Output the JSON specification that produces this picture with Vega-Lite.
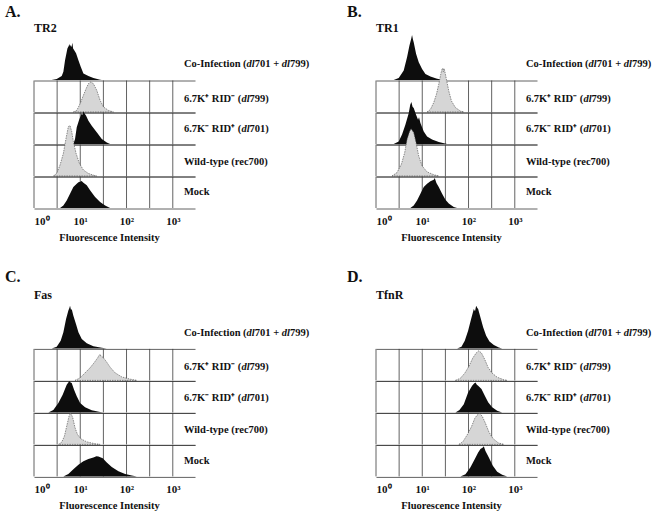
{
"$schema": "https://vega.github.io/schema/vega-lite/v6.json",
"padding": {"left": 5, "top": 3.5, "right": 0, "bottom": 5},
"config": {
 "view": {"stroke": null},
 "font": "Liberation Serif",
 "axis": {"labels": false, "ticks": false, "tickSize": 0, "domain": false, "gridColor": "#3a3a3a", "gridWidth": 0.8, "gridOpacity": 1, "labelFont": "Liberation Serif", "labelFontWeight": "bold", "labelFontSize": 11, "labelColor": "#111", "titleFont": "Liberation Serif", "titleFontWeight": "bold", "titleFontSize": 10.5, "titleColor": "#111"},
 "axisX": {"grid": false},
 "axisY": {"grid": true},
 "text": {"font": "Liberation Serif", "fontWeight": "bold", "fontSize": 10.5, "color": "#111", "align": "left", "baseline": "alphabetic"},
 "area": {"clip": false},
 "rule": {"color": "#3a3a3a", "strokeWidth": 0.8},
 "title": {"font": "Liberation Serif", "fontSize": 16, "fontWeight": "bold", "color": "#111", "anchor": "start", "dx": -29, "baseline": "alphabetic", "offset": 2}
},
"datasets": {
 "half": [{"logI":0},{"logI":0.5},{"logI":1},{"logI":1.5},{"logI":2},{"logI":2.5},{"logI":3}],
 "A_co": [{"logI":0.382,"count":0},{"logI":0.491,"count":3},{"logI":0.599,"count":13},{"logI":0.635,"count":26},{"logI":0.671,"count":63},{"logI":0.722,"count":100},{"logI":0.75,"count":108},{"logI":0.765,"count":114},{"logI":0.78,"count":106},{"logI":0.794,"count":111},{"logI":0.81,"count":104},{"logI":0.83,"count":118},{"logI":0.845,"count":100},{"logI":0.866,"count":95},{"logI":0.909,"count":85},{"logI":0.96,"count":63},{"logI":1.01,"count":42},{"logI":1.068,"count":21},{"logI":1.176,"count":13},{"logI":1.284,"count":6},{"logI":1.429,"count":1},{"logI":1.465,"count":0}],
 "A_dl799": [{"logI":0.851,"count":0},{"logI":0.924,"count":5},{"logI":0.996,"count":26},{"logI":1.068,"count":53},{"logI":1.126,"count":74},{"logI":1.176,"count":90},{"logI":1.227,"count":95},{"logI":1.284,"count":90},{"logI":1.356,"count":69},{"logI":1.429,"count":37},{"logI":1.501,"count":16},{"logI":1.609,"count":5},{"logI":1.717,"count":0}],
 "A_dl701": [{"logI":0.851,"count":0},{"logI":0.887,"count":16},{"logI":0.924,"count":53},{"logI":0.981,"count":79},{"logI":1.032,"count":97},{"logI":1.05,"count":92},{"logI":1.068,"count":104},{"logI":1.09,"count":98},{"logI":1.126,"count":90},{"logI":1.176,"count":74},{"logI":1.248,"count":58},{"logI":1.356,"count":37},{"logI":1.465,"count":16},{"logI":1.573,"count":5},{"logI":1.645,"count":0}],
 "A_wt": [{"logI":0.418,"count":0},{"logI":0.491,"count":8},{"logI":0.563,"count":35},{"logI":0.635,"count":72},{"logI":0.693,"count":120},{"logI":0.743,"count":157},{"logI":0.779,"count":160},{"logI":0.815,"count":141},{"logI":0.851,"count":109},{"logI":0.909,"count":72},{"logI":0.981,"count":40},{"logI":1.068,"count":19},{"logI":1.176,"count":8},{"logI":1.32,"count":1},{"logI":1.356,"count":0}],
 "A_mock": [{"logI":0.563,"count":0},{"logI":0.635,"count":8},{"logI":0.707,"count":24},{"logI":0.779,"count":45},{"logI":0.851,"count":67},{"logI":0.924,"count":77},{"logI":0.96,"count":82},{"logI":0.996,"count":83},{"logI":1.03,"count":86},{"logI":1.068,"count":80},{"logI":1.14,"count":72},{"logI":1.212,"count":56},{"logI":1.32,"count":35},{"logI":1.429,"count":19},{"logI":1.537,"count":8},{"logI":1.645,"count":0}],
 "B_co": [{"logI":0.382,"count":0},{"logI":0.491,"count":6},{"logI":0.599,"count":30},{"logI":0.671,"count":72},{"logI":0.722,"count":109},{"logI":0.765,"count":133},{"logI":0.779,"count":143},{"logI":0.8,"count":128},{"logI":0.815,"count":120},{"logI":0.866,"count":83},{"logI":0.924,"count":56},{"logI":0.996,"count":35},{"logI":1.068,"count":19},{"logI":1.176,"count":11},{"logI":1.32,"count":4},{"logI":1.465,"count":0}],
 "B_dl799": [{"logI":1.104,"count":0},{"logI":1.176,"count":8},{"logI":1.248,"count":30},{"logI":1.306,"count":56},{"logI":1.356,"count":88},{"logI":1.407,"count":125},{"logI":1.425,"count":135},{"logI":1.443,"count":139},{"logI":1.455,"count":128},{"logI":1.47,"count":138},{"logI":1.486,"count":130},{"logI":1.522,"count":104},{"logI":1.573,"count":67},{"logI":1.631,"count":35},{"logI":1.717,"count":14},{"logI":1.825,"count":3},{"logI":1.898,"count":0}],
 "B_dl701": [{"logI":0.382,"count":0},{"logI":0.491,"count":8},{"logI":0.563,"count":30},{"logI":0.635,"count":61},{"logI":0.707,"count":98},{"logI":0.74,"count":125},{"logI":0.765,"count":133},{"logI":0.79,"count":118},{"logI":0.815,"count":114},{"logI":0.866,"count":93},{"logI":0.909,"count":77},{"logI":0.93,"count":85},{"logI":0.96,"count":67},{"logI":1.032,"count":40},{"logI":1.104,"count":24},{"logI":1.212,"count":14},{"logI":1.356,"count":6},{"logI":1.537,"count":0}],
 "B_wt": [{"logI":0.346,"count":0},{"logI":0.455,"count":11},{"logI":0.548,"count":37},{"logI":0.62,"count":74},{"logI":0.671,"count":116},{"logI":0.722,"count":140},{"logI":0.758,"count":150},{"logI":0.815,"count":138},{"logI":0.866,"count":106},{"logI":0.924,"count":63},{"logI":0.996,"count":32},{"logI":1.104,"count":13},{"logI":1.248,"count":4},{"logI":1.356,"count":0}],
 "B_mock": [{"logI":0.743,"count":0},{"logI":0.815,"count":8},{"logI":0.887,"count":24},{"logI":0.96,"count":45},{"logI":1.032,"count":67},{"logI":1.104,"count":77},{"logI":1.176,"count":85},{"logI":1.248,"count":90},{"logI":1.27,"count":95},{"logI":1.306,"count":79},{"logI":1.356,"count":67},{"logI":1.429,"count":45},{"logI":1.501,"count":26},{"logI":1.573,"count":14},{"logI":1.681,"count":3},{"logI":1.753,"count":0}],
 "C_co": [{"logI":0.382,"count":0},{"logI":0.491,"count":5},{"logI":0.577,"count":24},{"logI":0.635,"count":51},{"logI":0.693,"count":93},{"logI":0.743,"count":120},{"logI":0.765,"count":128},{"logI":0.779,"count":135},{"logI":0.8,"count":122},{"logI":0.815,"count":125},{"logI":0.851,"count":104},{"logI":0.909,"count":77},{"logI":0.96,"count":51},{"logI":1.032,"count":30},{"logI":1.14,"count":16},{"logI":1.284,"count":7},{"logI":1.465,"count":2},{"logI":1.573,"count":0}],
 "C_dl799": [{"logI":0.887,"count":0},{"logI":0.996,"count":8},{"logI":1.104,"count":24},{"logI":1.212,"count":40},{"logI":1.299,"count":56},{"logI":1.378,"count":72},{"logI":1.4,"count":78},{"logI":1.429,"count":83},{"logI":1.45,"count":76},{"logI":1.486,"count":74},{"logI":1.558,"count":61},{"logI":1.645,"count":42},{"logI":1.753,"count":24},{"logI":1.898,"count":11},{"logI":2.078,"count":4},{"logI":2.222,"count":0}],
 "C_dl701": [{"logI":0.31,"count":0},{"logI":0.418,"count":8},{"logI":0.527,"count":30},{"logI":0.62,"count":56},{"logI":0.707,"count":88},{"logI":0.765,"count":100},{"logI":0.79,"count":95},{"logI":0.815,"count":93},{"logI":0.866,"count":72},{"logI":0.924,"count":51},{"logI":0.996,"count":30},{"logI":1.104,"count":16},{"logI":1.248,"count":7},{"logI":1.429,"count":1},{"logI":1.501,"count":0}],
 "C_wt": [{"logI":0.527,"count":0},{"logI":0.599,"count":7},{"logI":0.657,"count":26},{"logI":0.707,"count":58},{"logI":0.758,"count":90},{"logI":0.794,"count":100},{"logI":0.837,"count":85},{"logI":0.887,"count":53},{"logI":0.938,"count":32},{"logI":1.01,"count":18},{"logI":1.14,"count":8},{"logI":1.32,"count":2},{"logI":1.429,"count":0}],
 "C_mock": [{"logI":0.635,"count":0},{"logI":0.743,"count":8},{"logI":0.851,"count":23},{"logI":0.96,"count":37},{"logI":1.068,"count":48},{"logI":1.176,"count":55},{"logI":1.284,"count":60},{"logI":1.35,"count":64},{"logI":1.392,"count":63},{"logI":1.486,"count":58},{"logI":1.573,"count":44},{"logI":1.681,"count":30},{"logI":1.825,"count":16},{"logI":1.97,"count":8},{"logI":2.114,"count":3},{"logI":2.222,"count":0}],
 "D_co": [{"logI":1.753,"count":0},{"logI":1.847,"count":5},{"logI":1.919,"count":24},{"logI":1.991,"count":56},{"logI":2.056,"count":93},{"logI":2.114,"count":125},{"logI":2.14,"count":118},{"logI":2.165,"count":135},{"logI":2.19,"count":128},{"logI":2.208,"count":125},{"logI":2.258,"count":98},{"logI":2.316,"count":67},{"logI":2.381,"count":40},{"logI":2.453,"count":22},{"logI":2.547,"count":11},{"logI":2.655,"count":3},{"logI":2.727,"count":0}],
 "D_dl799": [{"logI":1.717,"count":0},{"logI":1.825,"count":7},{"logI":1.919,"count":23},{"logI":2.006,"count":44},{"logI":2.092,"count":71},{"logI":2.165,"count":87},{"logI":2.222,"count":94},{"logI":2.28,"count":87},{"logI":2.352,"count":66},{"logI":2.424,"count":41},{"logI":2.511,"count":23},{"logI":2.619,"count":10},{"logI":2.763,"count":2},{"logI":2.835,"count":0}],
 "D_dl701": [{"logI":1.717,"count":0},{"logI":1.804,"count":8},{"logI":1.898,"count":26},{"logI":1.991,"count":63},{"logI":2.078,"count":85},{"logI":2.12,"count":92},{"logI":2.15,"count":95},{"logI":2.18,"count":88},{"logI":2.208,"count":85},{"logI":2.28,"count":74},{"logI":2.352,"count":53},{"logI":2.424,"count":32},{"logI":2.511,"count":16},{"logI":2.619,"count":5},{"logI":2.727,"count":0}],
 "D_wt": [{"logI":1.789,"count":0},{"logI":1.876,"count":8},{"logI":1.97,"count":30},{"logI":2.063,"count":56},{"logI":2.136,"count":83},{"logI":2.186,"count":93},{"logI":2.237,"count":98},{"logI":2.294,"count":90},{"logI":2.366,"count":67},{"logI":2.439,"count":40},{"logI":2.525,"count":19},{"logI":2.641,"count":5},{"logI":2.763,"count":0}],
 "D_mock": [{"logI":1.825,"count":0},{"logI":1.934,"count":7},{"logI":2.042,"count":29},{"logI":2.136,"count":55},{"logI":2.208,"count":76},{"logI":2.258,"count":87},{"logI":2.309,"count":92},{"logI":2.33,"count":96},{"logI":2.366,"count":81},{"logI":2.439,"count":60},{"logI":2.525,"count":34},{"logI":2.619,"count":15},{"logI":2.727,"count":5},{"logI":2.835,"count":0}]
},
"bounds": "flush",
"spacing": 268.4,
"vconcat": [
 {"hconcat": [
  {"vconcat": [
   {"width": 161, "height": 31.5, "title": {"text": "A."}, "layer": [
    {"data": {"name": "A_co"}, "mark": {"type": "area", "color": "#0d0d0d"}, "encoding": {"x": {"field": "logI", "type": "quantitative", "scale": {"domain": [0, 3.48], "nice": false, "zero": false}, "axis": null}, "y": {"field": "count", "type": "quantitative", "scale": {"domain": [0, 100], "nice": false}, "axis": null}}},
    {"data": {"values": [{}]}, "mark": {"type": "text", "fontSize": 12}, "encoding": {"x": {"datum": 0}, "y": {"datum": 153}, "text": {"value": "TR2"}}},
    {"data": {"values": [{}]}, "mark": {"type": "text"}, "encoding": {"x": {"datum": 3.24}, "y": {"datum": 40}, "text": {"value": "Co-Infection ("}}},
    {"data": {"values": [{}]}, "mark": {"type": "text", "dx": 62.7, "fontStyle": "italic"}, "encoding": {"x": {"datum": 3.24}, "y": {"datum": 40}, "text": {"value": "dl"}}},
    {"data": {"values": [{}]}, "mark": {"type": "text", "dx": 70.9}, "encoding": {"x": {"datum": 3.24}, "y": {"datum": 40}, "text": {"value": "701 +"}}},
    {"data": {"values": [{}]}, "mark": {"type": "text", "dx": 97.9, "fontStyle": "italic"}, "encoding": {"x": {"datum": 3.24}, "y": {"datum": 40}, "text": {"value": "dl"}}},
    {"data": {"values": [{}]}, "mark": {"type": "text", "dx": 106.0}, "encoding": {"x": {"datum": 3.24}, "y": {"datum": 40}, "text": {"value": "799)"}}}
   ]},
   {"width": 161, "height": 31.5, "layer": [
    {"data": {"name": "half"}, "mark": "rule", "encoding": {"x": {"field": "logI", "type": "quantitative"}}},
    {"data": {"name": "A_dl799"}, "mark": {"type": "area", "color": "#d6d6d6", "stroke": "#444", "strokeWidth": 0.6, "strokeDash": [1.5, 1]}, "encoding": {"x": {"field": "logI", "type": "quantitative", "scale": {"domain": [0, 3.48], "nice": false, "zero": false}, "axis": {"title": null}}, "y": {"field": "count", "type": "quantitative", "scale": {"domain": [0, 100], "nice": false}, "axis": {"values": [0, 100], "title": null}}}},
    {"data": {"values": [{}]}, "mark": {"type": "text"}, "encoding": {"x": {"datum": 3.24}, "y": {"datum": 32}, "text": {"value": "6.7K⁺ RID⁻ ("}}},
    {"data": {"values": [{}]}, "mark": {"type": "text", "dx": 57.5, "fontStyle": "italic"}, "encoding": {"x": {"datum": 3.24}, "y": {"datum": 32}, "text": {"value": "dl"}}},
    {"data": {"values": [{}]}, "mark": {"type": "text", "dx": 65.7}, "encoding": {"x": {"datum": 3.24}, "y": {"datum": 32}, "text": {"value": "799)"}}}
   ]},
   {"width": 161, "height": 31.5, "layer": [
    {"data": {"name": "half"}, "mark": "rule", "encoding": {"x": {"field": "logI", "type": "quantitative"}}},
    {"data": {"name": "A_dl701"}, "mark": {"type": "area", "color": "#0d0d0d"}, "encoding": {"x": {"field": "logI", "type": "quantitative", "scale": {"domain": [0, 3.48], "nice": false, "zero": false}, "axis": {"title": null}}, "y": {"field": "count", "type": "quantitative", "scale": {"domain": [0, 100], "nice": false}, "axis": {"values": [0, 100], "title": null}}}},
    {"data": {"values": [{}]}, "mark": {"type": "text"}, "encoding": {"x": {"datum": 3.24}, "y": {"datum": 37}, "text": {"value": "6.7K⁻ RID⁺ ("}}},
    {"data": {"values": [{}]}, "mark": {"type": "text", "dx": 57.5, "fontStyle": "italic"}, "encoding": {"x": {"datum": 3.24}, "y": {"datum": 37}, "text": {"value": "dl"}}},
    {"data": {"values": [{}]}, "mark": {"type": "text", "dx": 65.7}, "encoding": {"x": {"datum": 3.24}, "y": {"datum": 37}, "text": {"value": "701)"}}}
   ]},
   {"width": 161, "height": 31.5, "layer": [
    {"data": {"name": "half"}, "mark": "rule", "encoding": {"x": {"field": "logI", "type": "quantitative"}}},
    {"data": {"name": "A_wt"}, "mark": {"type": "area", "color": "#d6d6d6", "stroke": "#444", "strokeWidth": 0.6, "strokeDash": [1.5, 1]}, "encoding": {"x": {"field": "logI", "type": "quantitative", "scale": {"domain": [0, 3.48], "nice": false, "zero": false}, "axis": {"title": null}}, "y": {"field": "count", "type": "quantitative", "scale": {"domain": [0, 100], "nice": false}, "axis": {"values": [0, 100], "title": null}}}},
    {"data": {"values": [{}]}, "mark": {"type": "text"}, "encoding": {"x": {"datum": 3.24}, "y": {"datum": 36}, "text": {"value": "Wild-type (rec700)"}}}
   ]},
   {"width": 161, "height": 31.5, "layer": [
    {"data": {"name": "half"}, "mark": "rule", "encoding": {"x": {"field": "logI", "type": "quantitative"}}},
    {"data": {"name": "A_mock"}, "mark": {"type": "area", "color": "#0d0d0d"}, "encoding": {"x": {"field": "logI", "type": "quantitative", "scale": {"domain": [0, 3.48], "nice": false, "zero": false}, "axis": {"values": [0, 1, 2, 3], "labels": true, "labelExpr": "datum.value == 0 ? '10⁰' : datum.value == 1 ? '10¹' : datum.value == 2 ? '10²' : '10³'", "labelPadding": 16.5, "labelBaseline": "alphabetic", "title": "Fluorescence Intensity", "titlePadding": 6, "titleX": 75}}, "y": {"field": "count", "type": "quantitative", "scale": {"domain": [0, 100], "nice": false}, "axis": {"values": [0, 100], "title": null}}}},
    {"data": {"values": [{}]}, "mark": {"type": "text"}, "encoding": {"x": {"datum": 3.24}, "y": {"datum": 40}, "text": {"value": "Mock"}}}
   ]}
  ], "spacing": 0, "bounds": "flush"},
  {"vconcat": [
   {"width": 161, "height": 31.5, "title": {"text": "B."}, "layer": [
    {"data": {"name": "B_co"}, "mark": {"type": "area", "color": "#0d0d0d"}, "encoding": {"x": {"field": "logI", "type": "quantitative", "scale": {"domain": [0, 3.48], "nice": false, "zero": false}, "axis": null}, "y": {"field": "count", "type": "quantitative", "scale": {"domain": [0, 100], "nice": false}, "axis": null}}},
    {"data": {"values": [{}]}, "mark": {"type": "text", "fontSize": 12}, "encoding": {"x": {"datum": 0}, "y": {"datum": 153}, "text": {"value": "TR1"}}},
    {"data": {"values": [{}]}, "mark": {"type": "text"}, "encoding": {"x": {"datum": 3.24}, "y": {"datum": 40}, "text": {"value": "Co-Infection ("}}},
    {"data": {"values": [{}]}, "mark": {"type": "text", "dx": 62.7, "fontStyle": "italic"}, "encoding": {"x": {"datum": 3.24}, "y": {"datum": 40}, "text": {"value": "dl"}}},
    {"data": {"values": [{}]}, "mark": {"type": "text", "dx": 70.9}, "encoding": {"x": {"datum": 3.24}, "y": {"datum": 40}, "text": {"value": "701 +"}}},
    {"data": {"values": [{}]}, "mark": {"type": "text", "dx": 97.9, "fontStyle": "italic"}, "encoding": {"x": {"datum": 3.24}, "y": {"datum": 40}, "text": {"value": "dl"}}},
    {"data": {"values": [{}]}, "mark": {"type": "text", "dx": 106.0}, "encoding": {"x": {"datum": 3.24}, "y": {"datum": 40}, "text": {"value": "799)"}}}
   ]},
   {"width": 161, "height": 31.5, "layer": [
    {"data": {"name": "half"}, "mark": "rule", "encoding": {"x": {"field": "logI", "type": "quantitative"}}},
    {"data": {"name": "B_dl799"}, "mark": {"type": "area", "color": "#d6d6d6", "stroke": "#444", "strokeWidth": 0.6, "strokeDash": [1.5, 1]}, "encoding": {"x": {"field": "logI", "type": "quantitative", "scale": {"domain": [0, 3.48], "nice": false, "zero": false}, "axis": {"title": null}}, "y": {"field": "count", "type": "quantitative", "scale": {"domain": [0, 100], "nice": false}, "axis": {"values": [0, 100], "title": null}}}},
    {"data": {"values": [{}]}, "mark": {"type": "text"}, "encoding": {"x": {"datum": 3.24}, "y": {"datum": 32}, "text": {"value": "6.7K⁺ RID⁻ ("}}},
    {"data": {"values": [{}]}, "mark": {"type": "text", "dx": 57.5, "fontStyle": "italic"}, "encoding": {"x": {"datum": 3.24}, "y": {"datum": 32}, "text": {"value": "dl"}}},
    {"data": {"values": [{}]}, "mark": {"type": "text", "dx": 65.7}, "encoding": {"x": {"datum": 3.24}, "y": {"datum": 32}, "text": {"value": "799)"}}}
   ]},
   {"width": 161, "height": 31.5, "layer": [
    {"data": {"name": "half"}, "mark": "rule", "encoding": {"x": {"field": "logI", "type": "quantitative"}}},
    {"data": {"name": "B_dl701"}, "mark": {"type": "area", "color": "#0d0d0d"}, "encoding": {"x": {"field": "logI", "type": "quantitative", "scale": {"domain": [0, 3.48], "nice": false, "zero": false}, "axis": {"title": null}}, "y": {"field": "count", "type": "quantitative", "scale": {"domain": [0, 100], "nice": false}, "axis": {"values": [0, 100], "title": null}}}},
    {"data": {"values": [{}]}, "mark": {"type": "text"}, "encoding": {"x": {"datum": 3.24}, "y": {"datum": 37}, "text": {"value": "6.7K⁻ RID⁺ ("}}},
    {"data": {"values": [{}]}, "mark": {"type": "text", "dx": 57.5, "fontStyle": "italic"}, "encoding": {"x": {"datum": 3.24}, "y": {"datum": 37}, "text": {"value": "dl"}}},
    {"data": {"values": [{}]}, "mark": {"type": "text", "dx": 65.7}, "encoding": {"x": {"datum": 3.24}, "y": {"datum": 37}, "text": {"value": "701)"}}}
   ]},
   {"width": 161, "height": 31.5, "layer": [
    {"data": {"name": "half"}, "mark": "rule", "encoding": {"x": {"field": "logI", "type": "quantitative"}}},
    {"data": {"name": "B_wt"}, "mark": {"type": "area", "color": "#d6d6d6", "stroke": "#444", "strokeWidth": 0.6, "strokeDash": [1.5, 1]}, "encoding": {"x": {"field": "logI", "type": "quantitative", "scale": {"domain": [0, 3.48], "nice": false, "zero": false}, "axis": {"title": null}}, "y": {"field": "count", "type": "quantitative", "scale": {"domain": [0, 100], "nice": false}, "axis": {"values": [0, 100], "title": null}}}},
    {"data": {"values": [{}]}, "mark": {"type": "text"}, "encoding": {"x": {"datum": 3.24}, "y": {"datum": 36}, "text": {"value": "Wild-type (rec700)"}}}
   ]},
   {"width": 161, "height": 31.5, "layer": [
    {"data": {"name": "half"}, "mark": "rule", "encoding": {"x": {"field": "logI", "type": "quantitative"}}},
    {"data": {"name": "B_mock"}, "mark": {"type": "area", "color": "#0d0d0d"}, "encoding": {"x": {"field": "logI", "type": "quantitative", "scale": {"domain": [0, 3.48], "nice": false, "zero": false}, "axis": {"values": [0, 1, 2, 3], "labels": true, "labelExpr": "datum.value == 0 ? '10⁰' : datum.value == 1 ? '10¹' : datum.value == 2 ? '10²' : '10³'", "labelPadding": 16.5, "labelBaseline": "alphabetic", "title": "Fluorescence Intensity", "titlePadding": 6, "titleX": 75}}, "y": {"field": "count", "type": "quantitative", "scale": {"domain": [0, 100], "nice": false}, "axis": {"values": [0, 100], "title": null}}}},
    {"data": {"values": [{}]}, "mark": {"type": "text"}, "encoding": {"x": {"datum": 3.24}, "y": {"datum": 40}, "text": {"value": "Mock"}}}
   ]}
  ], "spacing": 0, "bounds": "flush"}
 ], "spacing": 342, "bounds": "flush"},
 {"hconcat": [
  {"vconcat": [
   {"width": 161, "height": 31.5, "title": {"text": "C.", "offset": 3.5}, "layer": [
    {"data": {"name": "C_co"}, "mark": {"type": "area", "color": "#0d0d0d"}, "encoding": {"x": {"field": "logI", "type": "quantitative", "scale": {"domain": [0, 3.48], "nice": false, "zero": false}, "axis": null}, "y": {"field": "count", "type": "quantitative", "scale": {"domain": [0, 100], "nice": false}, "axis": null}}},
    {"data": {"values": [{}]}, "mark": {"type": "text", "fontSize": 12}, "encoding": {"x": {"datum": 0}, "y": {"datum": 157}, "text": {"value": "Fas"}}},
    {"data": {"values": [{}]}, "mark": {"type": "text"}, "encoding": {"x": {"datum": 3.24}, "y": {"datum": 40}, "text": {"value": "Co-Infection ("}}},
    {"data": {"values": [{}]}, "mark": {"type": "text", "dx": 62.7, "fontStyle": "italic"}, "encoding": {"x": {"datum": 3.24}, "y": {"datum": 40}, "text": {"value": "dl"}}},
    {"data": {"values": [{}]}, "mark": {"type": "text", "dx": 70.9}, "encoding": {"x": {"datum": 3.24}, "y": {"datum": 40}, "text": {"value": "701 +"}}},
    {"data": {"values": [{}]}, "mark": {"type": "text", "dx": 97.9, "fontStyle": "italic"}, "encoding": {"x": {"datum": 3.24}, "y": {"datum": 40}, "text": {"value": "dl"}}},
    {"data": {"values": [{}]}, "mark": {"type": "text", "dx": 106.0}, "encoding": {"x": {"datum": 3.24}, "y": {"datum": 40}, "text": {"value": "799)"}}}
   ]},
   {"width": 161, "height": 31.5, "layer": [
    {"data": {"name": "half"}, "mark": "rule", "encoding": {"x": {"field": "logI", "type": "quantitative"}}},
    {"data": {"name": "C_dl799"}, "mark": {"type": "area", "color": "#d6d6d6", "stroke": "#444", "strokeWidth": 0.6, "strokeDash": [1.5, 1]}, "encoding": {"x": {"field": "logI", "type": "quantitative", "scale": {"domain": [0, 3.48], "nice": false, "zero": false}, "axis": {"title": null}}, "y": {"field": "count", "type": "quantitative", "scale": {"domain": [0, 100], "nice": false}, "axis": {"values": [0, 100], "title": null}}}},
    {"data": {"values": [{}]}, "mark": {"type": "text"}, "encoding": {"x": {"datum": 3.24}, "y": {"datum": 32}, "text": {"value": "6.7K⁺ RID⁻ ("}}},
    {"data": {"values": [{}]}, "mark": {"type": "text", "dx": 57.5, "fontStyle": "italic"}, "encoding": {"x": {"datum": 3.24}, "y": {"datum": 32}, "text": {"value": "dl"}}},
    {"data": {"values": [{}]}, "mark": {"type": "text", "dx": 65.7}, "encoding": {"x": {"datum": 3.24}, "y": {"datum": 32}, "text": {"value": "799)"}}}
   ]},
   {"width": 161, "height": 31.5, "layer": [
    {"data": {"name": "half"}, "mark": "rule", "encoding": {"x": {"field": "logI", "type": "quantitative"}}},
    {"data": {"name": "C_dl701"}, "mark": {"type": "area", "color": "#0d0d0d"}, "encoding": {"x": {"field": "logI", "type": "quantitative", "scale": {"domain": [0, 3.48], "nice": false, "zero": false}, "axis": {"title": null}}, "y": {"field": "count", "type": "quantitative", "scale": {"domain": [0, 100], "nice": false}, "axis": {"values": [0, 100], "title": null}}}},
    {"data": {"values": [{}]}, "mark": {"type": "text"}, "encoding": {"x": {"datum": 3.24}, "y": {"datum": 37}, "text": {"value": "6.7K⁻ RID⁺ ("}}},
    {"data": {"values": [{}]}, "mark": {"type": "text", "dx": 57.5, "fontStyle": "italic"}, "encoding": {"x": {"datum": 3.24}, "y": {"datum": 37}, "text": {"value": "dl"}}},
    {"data": {"values": [{}]}, "mark": {"type": "text", "dx": 65.7}, "encoding": {"x": {"datum": 3.24}, "y": {"datum": 37}, "text": {"value": "701)"}}}
   ]},
   {"width": 161, "height": 31.5, "layer": [
    {"data": {"name": "half"}, "mark": "rule", "encoding": {"x": {"field": "logI", "type": "quantitative"}}},
    {"data": {"name": "C_wt"}, "mark": {"type": "area", "color": "#d6d6d6", "stroke": "#444", "strokeWidth": 0.6, "strokeDash": [1.5, 1]}, "encoding": {"x": {"field": "logI", "type": "quantitative", "scale": {"domain": [0, 3.48], "nice": false, "zero": false}, "axis": {"title": null}}, "y": {"field": "count", "type": "quantitative", "scale": {"domain": [0, 100], "nice": false}, "axis": {"values": [0, 100], "title": null}}}},
    {"data": {"values": [{}]}, "mark": {"type": "text"}, "encoding": {"x": {"datum": 3.24}, "y": {"datum": 36}, "text": {"value": "Wild-type (rec700)"}}}
   ]},
   {"width": 161, "height": 31.5, "layer": [
    {"data": {"name": "half"}, "mark": "rule", "encoding": {"x": {"field": "logI", "type": "quantitative"}}},
    {"data": {"name": "C_mock"}, "mark": {"type": "area", "color": "#0d0d0d"}, "encoding": {"x": {"field": "logI", "type": "quantitative", "scale": {"domain": [0, 3.48], "nice": false, "zero": false}, "axis": {"values": [0, 1, 2, 3], "labels": true, "labelExpr": "datum.value == 0 ? '10⁰' : datum.value == 1 ? '10¹' : datum.value == 2 ? '10²' : '10³'", "labelPadding": 16.5, "labelBaseline": "alphabetic", "title": "Fluorescence Intensity", "titlePadding": 6, "titleX": 75}}, "y": {"field": "count", "type": "quantitative", "scale": {"domain": [0, 100], "nice": false}, "axis": {"values": [0, 100], "title": null}}}},
    {"data": {"values": [{}]}, "mark": {"type": "text"}, "encoding": {"x": {"datum": 3.24}, "y": {"datum": 40}, "text": {"value": "Mock"}}}
   ]}
  ], "spacing": 0, "bounds": "flush"},
  {"vconcat": [
   {"width": 161, "height": 31.5, "title": {"text": "D.", "offset": 3.5}, "layer": [
    {"data": {"name": "D_co"}, "mark": {"type": "area", "color": "#0d0d0d"}, "encoding": {"x": {"field": "logI", "type": "quantitative", "scale": {"domain": [0, 3.48], "nice": false, "zero": false}, "axis": null}, "y": {"field": "count", "type": "quantitative", "scale": {"domain": [0, 100], "nice": false}, "axis": null}}},
    {"data": {"values": [{}]}, "mark": {"type": "text", "fontSize": 12}, "encoding": {"x": {"datum": 0}, "y": {"datum": 157}, "text": {"value": "TfnR"}}},
    {"data": {"values": [{}]}, "mark": {"type": "text"}, "encoding": {"x": {"datum": 3.24}, "y": {"datum": 40}, "text": {"value": "Co-Infection ("}}},
    {"data": {"values": [{}]}, "mark": {"type": "text", "dx": 62.7, "fontStyle": "italic"}, "encoding": {"x": {"datum": 3.24}, "y": {"datum": 40}, "text": {"value": "dl"}}},
    {"data": {"values": [{}]}, "mark": {"type": "text", "dx": 70.9}, "encoding": {"x": {"datum": 3.24}, "y": {"datum": 40}, "text": {"value": "701 +"}}},
    {"data": {"values": [{}]}, "mark": {"type": "text", "dx": 97.9, "fontStyle": "italic"}, "encoding": {"x": {"datum": 3.24}, "y": {"datum": 40}, "text": {"value": "dl"}}},
    {"data": {"values": [{}]}, "mark": {"type": "text", "dx": 106.0}, "encoding": {"x": {"datum": 3.24}, "y": {"datum": 40}, "text": {"value": "799)"}}}
   ]},
   {"width": 161, "height": 31.5, "layer": [
    {"data": {"name": "half"}, "mark": "rule", "encoding": {"x": {"field": "logI", "type": "quantitative"}}},
    {"data": {"name": "D_dl799"}, "mark": {"type": "area", "color": "#d6d6d6", "stroke": "#444", "strokeWidth": 0.6, "strokeDash": [1.5, 1]}, "encoding": {"x": {"field": "logI", "type": "quantitative", "scale": {"domain": [0, 3.48], "nice": false, "zero": false}, "axis": {"title": null}}, "y": {"field": "count", "type": "quantitative", "scale": {"domain": [0, 100], "nice": false}, "axis": {"values": [0, 100], "title": null}}}},
    {"data": {"values": [{}]}, "mark": {"type": "text"}, "encoding": {"x": {"datum": 3.24}, "y": {"datum": 32}, "text": {"value": "6.7K⁺ RID⁻ ("}}},
    {"data": {"values": [{}]}, "mark": {"type": "text", "dx": 57.5, "fontStyle": "italic"}, "encoding": {"x": {"datum": 3.24}, "y": {"datum": 32}, "text": {"value": "dl"}}},
    {"data": {"values": [{}]}, "mark": {"type": "text", "dx": 65.7}, "encoding": {"x": {"datum": 3.24}, "y": {"datum": 32}, "text": {"value": "799)"}}}
   ]},
   {"width": 161, "height": 31.5, "layer": [
    {"data": {"name": "half"}, "mark": "rule", "encoding": {"x": {"field": "logI", "type": "quantitative"}}},
    {"data": {"name": "D_dl701"}, "mark": {"type": "area", "color": "#0d0d0d"}, "encoding": {"x": {"field": "logI", "type": "quantitative", "scale": {"domain": [0, 3.48], "nice": false, "zero": false}, "axis": {"title": null}}, "y": {"field": "count", "type": "quantitative", "scale": {"domain": [0, 100], "nice": false}, "axis": {"values": [0, 100], "title": null}}}},
    {"data": {"values": [{}]}, "mark": {"type": "text"}, "encoding": {"x": {"datum": 3.24}, "y": {"datum": 37}, "text": {"value": "6.7K⁻ RID⁺ ("}}},
    {"data": {"values": [{}]}, "mark": {"type": "text", "dx": 57.5, "fontStyle": "italic"}, "encoding": {"x": {"datum": 3.24}, "y": {"datum": 37}, "text": {"value": "dl"}}},
    {"data": {"values": [{}]}, "mark": {"type": "text", "dx": 65.7}, "encoding": {"x": {"datum": 3.24}, "y": {"datum": 37}, "text": {"value": "701)"}}}
   ]},
   {"width": 161, "height": 31.5, "layer": [
    {"data": {"name": "half"}, "mark": "rule", "encoding": {"x": {"field": "logI", "type": "quantitative"}}},
    {"data": {"name": "D_wt"}, "mark": {"type": "area", "color": "#d6d6d6", "stroke": "#444", "strokeWidth": 0.6, "strokeDash": [1.5, 1]}, "encoding": {"x": {"field": "logI", "type": "quantitative", "scale": {"domain": [0, 3.48], "nice": false, "zero": false}, "axis": {"title": null}}, "y": {"field": "count", "type": "quantitative", "scale": {"domain": [0, 100], "nice": false}, "axis": {"values": [0, 100], "title": null}}}},
    {"data": {"values": [{}]}, "mark": {"type": "text"}, "encoding": {"x": {"datum": 3.24}, "y": {"datum": 36}, "text": {"value": "Wild-type (rec700)"}}}
   ]},
   {"width": 161, "height": 31.5, "layer": [
    {"data": {"name": "half"}, "mark": "rule", "encoding": {"x": {"field": "logI", "type": "quantitative"}}},
    {"data": {"name": "D_mock"}, "mark": {"type": "area", "color": "#0d0d0d"}, "encoding": {"x": {"field": "logI", "type": "quantitative", "scale": {"domain": [0, 3.48], "nice": false, "zero": false}, "axis": {"values": [0, 1, 2, 3], "labels": true, "labelExpr": "datum.value == 0 ? '10⁰' : datum.value == 1 ? '10¹' : datum.value == 2 ? '10²' : '10³'", "labelPadding": 16.5, "labelBaseline": "alphabetic", "title": "Fluorescence Intensity", "titlePadding": 6, "titleX": 75}}, "y": {"field": "count", "type": "quantitative", "scale": {"domain": [0, 100], "nice": false}, "axis": {"values": [0, 100], "title": null}}}},
    {"data": {"values": [{}]}, "mark": {"type": "text"}, "encoding": {"x": {"datum": 3.24}, "y": {"datum": 40}, "text": {"value": "Mock"}}}
   ]}
  ], "spacing": 0, "bounds": "flush"}
 ], "spacing": 342, "bounds": "flush"}
]
}
